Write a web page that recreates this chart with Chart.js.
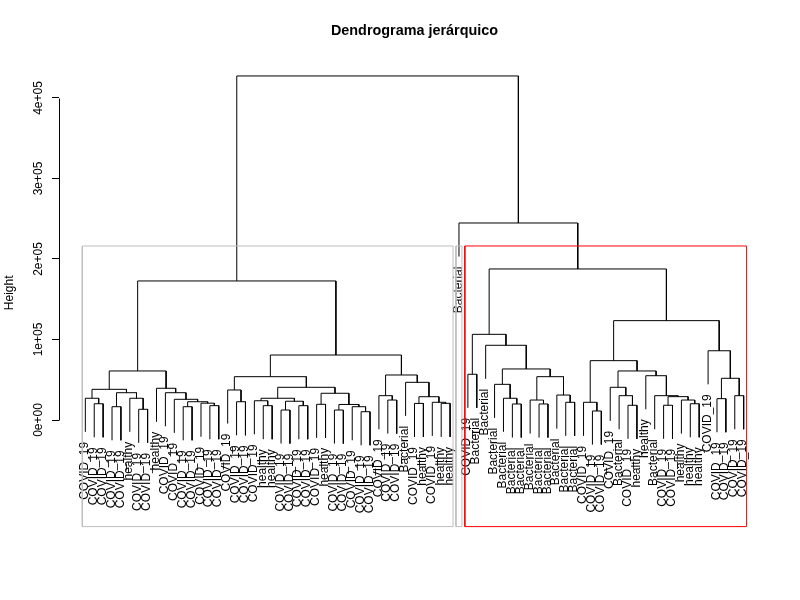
<!DOCTYPE html>
<html>
<head>
<meta charset="utf-8">
<script src="https://cdn.jsdelivr.net/npm/chart.js@4.4.0/dist/chart.umd.min.js"></script>
<style>html,body{margin:0;padding:0;background:#fff;}canvas{display:block;}</style>
</head>
<body>
<canvas id="c" width="800" height="600"></canvas>
<script>
// ---------- DATA ----------
const chartTitle = 'Dendrograma jerárquico';
const yAxisTitle = 'Height';
// leaf labels in dendrogram order (left to right)
const leafLabels = [
 'COVID_19','COVID_19','COVID_19','COVID_19','COVID_19',
 'healthy','COVID_19','COVID_19','healthy','COVID_19',
 'COVID_19','COVID_19','COVID_19','COVID_19','COVID_19',
 'COVID_19','COVID_19','COVID_19','COVID_19','COVID_19',
 'healthy','healthy','COVID_19','COVID_19','COVID_19',
 'COVID_19','COVID_19','healthy','COVID_19','COVID_19',
 'COVID_19','COVID_19','COVID_19','COVID_19','COVID_19',
 'COVID_19','Bacterial','COVID_19','healthy','COVID_19',
 'healthy','healthy','Bacterial','COVID_19','Bacterial',
 'Bacterial','Bacterial','Bacterial','Bacterial','Bacterial',
 'Bacterial','Bacterial','Bacterial','Bacterial','Bacterial',
 'Bacterial','COVID_19','COVID_19','COVID_19','COVID_19',
 'Bacterial','COVID_19','healthy','healthy','Bacterial',
 'COVID_19','COVID_19','healthy','healthy','healthy',
 'COVID_19','COVID_19','COVID_19','COVID_19','COVID_19'
];
// merge table (hclust style): negative = leaf position, positive = earlier merge
const mergeLeft = [
 -2,-1,-4,-7,-6,3,2,-12,-15,-14,
 8,-11,-10,-9,7,-18,-17,-21,-20,-23,
 -25,20,19,-27,-29,-32,-31,25,24,23,
 17,-35,-34,-38,-41,-40,34,-37,33,31,
 15,-44,-49,-48,-47,-52,-51,-55,-54,47,
 45,-46,42,-58,-57,-62,-61,-60,-66,-69,
 -68,59,-65,-64,58,55,-72,-74,67,-71,
 66,53,-43,41
];
const mergeRight = [
 -3,1,-5,-8,4,5,6,-13,-16,9,
 10,11,12,13,14,-19,16,-22,18,-24,
 -26,21,22,-28,-30,-33,26,27,28,29,
 30,-36,32,-39,-42,35,36,37,38,39,
 40,-45,-50,43,44,-53,46,-56,48,49,
 50,51,52,-59,54,-63,56,57,-67,-70,
 60,61,62,63,64,65,-73,-75,68,69,
 70,71,72,73
];
const mergeHeight = [
 20200,27000,16500,13300,27000,33900,38100,16500,17800,20900,
 22700,25700,33900,39400,60900,22700,37300,17800,23900,12400,
 17800,23300,27000,19500,12400,10300,16500,19300,33200,40600,
 53800,24800,30200,20600,20700,22000,28900,46800,55900,80700,
 172700,56800,19900,27000,44300,19900,24800,22000,31000,53800,
 63400,92800,106400,11200,22000,18300,30200,40600,18300,20200,
 24800,29000,30200,55000,60900,73700,26500,30200,51800,86000,
 123400,187600,244700,427300
];
const yTickValues = [0, 100000, 200000, 300000, 400000];
const yTickLabels = ['0e+00', '1e+05', '2e+05', '3e+05', '4e+05'];
const clusterK = 3;
const hangFraction = 0.1;

// ---------- STYLE / LAYOUT ----------
const FONT = '"Liberation Sans", Arial, sans-serif';
const rectColors = ['#BEBEBE', '#BEBEBE', '#FF0000'];
const yRange = [-132400, 448400];

// ---------- TREE LAYOUT (derived from the data) ----------
const n = leafLabels.length;
const nodeX = [];
const childX = c => c < 0 ? -c : nodeX[c - 1];
for (let j = 0; j < mergeLeft.length; j++) {
  nodeX[j] = (childX(mergeLeft[j]) + childX(mergeRight[j])) / 2;
}
const hMax = Math.max(...mergeHeight), hMin = Math.min(...mergeHeight);
const hang = hangFraction * (hMax - hMin);
const leafBottom = new Array(n + 1);
const treePts = [];
for (let j = 0; j < mergeLeft.length; j++) {
  const h = mergeHeight[j];
  const a = mergeLeft[j], b = mergeRight[j];
  const ya = a < 0 ? h - hang : mergeHeight[a - 1];
  const yb = b < 0 ? h - hang : mergeHeight[b - 1];
  if (a < 0) leafBottom[-a] = ya;
  if (b < 0) leafBottom[-b] = yb;
  const xa = childX(a), xb = childX(b);
  treePts.push({x: xa, y: ya}, {x: xa, y: h}, {x: xb, y: h}, {x: xb, y: yb}, {x: xb, y: null});
}
// clusters for rectangles (cut into k groups)
const sortedH = [...mergeHeight].sort((p, q) => q - p);
const cutH = (sortedH[clusterK - 2] + sortedH[clusterK - 1]) / 2;
const countLeaves = c => c < 0 ? 1 : countLeaves(mergeLeft[c - 1]) + countLeaves(mergeRight[c - 1]);
const clusterSizes = [];
(function collect(c) {
  if (c < 0 || mergeHeight[c - 1] < cutH) { clusterSizes.push(countLeaves(c)); return; }
  collect(mergeLeft[c - 1]); collect(mergeRight[c - 1]);
})(mergeLeft.length);
const rectSets = [];
let cum = 0;
clusterSizes.forEach((s, i) => {
  const x0 = cum + 0.66, x1 = cum + s + 0.33;
  cum += s;
  rectSets.push({
    data: [{x: x0, y: yRange[0]}, {x: x1, y: yRange[0]}, {x: x1, y: cutH}, {x: x0, y: cutH}, {x: x0, y: yRange[0]}],
    showLine: true, borderColor: rectColors[i], borderWidth: 1, pointRadius: 0, clip: false, tension: 0
  });
});

// ---------- PLUGINS ----------
const leafLabelPlugin = {
  id: 'leafLabels',
  beforeDatasetsDraw(chart) {
    const {ctx} = chart;
    const xs = chart.scales.x, ys = chart.scales.y;
    ctx.save();
    ctx.font = '12px ' + FONT;
    ctx.fillStyle = '#000';
    ctx.textAlign = 'right';
    ctx.textBaseline = 'alphabetic';
    for (let i = 1; i <= n; i++) {
      const px = xs.getPixelForValue(i);
      const py = ys.getPixelForValue(leafBottom[i]) + 10;
      ctx.save();
      ctx.translate(px, py);
      ctx.rotate(-Math.PI / 2);
      ctx.fillText(leafLabels[i - 1], 0, 2.6);
      ctx.restore();
    }
    ctx.restore();
  }
};
const axisLinePlugin = {
  id: 'axisLine',
  afterDraw(chart) {
    const {ctx} = chart;
    const ys = chart.scales.y;
    const x = Math.round(chart.chartArea.left) + 0.5;
    ctx.save();
    ctx.strokeStyle = '#000';
    ctx.lineWidth = 1;
    ctx.beginPath();
    ctx.moveTo(x, Math.round(ys.getPixelForValue(yTickValues[0])) + 0.5);
    ctx.lineTo(x, Math.round(ys.getPixelForValue(yTickValues[yTickValues.length - 1])) + 0.5);
    ctx.stroke();
    ctx.restore();
  }
};

new Chart(document.getElementById('c'), {
  type: 'scatter',
  data: {
    datasets: [
      ...rectSets,
      {data: treePts, showLine: true, borderColor: '#000', borderWidth: 1, pointRadius: 0, spanGaps: false, tension: 0}
    ]
  },
  options: {
    responsive: false,
    animation: false,
    devicePixelRatio: 1,
    events: [],
    layout: {padding: {left: 0, right: 30, top: 0, bottom: 73.4}},
    plugins: {
      legend: {display: false},
      tooltip: {enabled: false},
      title: {
        display: true, text: chartTitle, color: '#000', fullSize: false,
        font: {family: FONT, size: 14.4, weight: 'bold', lineHeight: 1.2},
        padding: {top: 22.4, bottom: 19.3}
      }
    },
    scales: {
      x: {type: 'linear', display: false, min: 1 - 0.04 * (n - 1), max: n + 0.04 * (n - 1)},
      y: {
        type: 'linear', min: yRange[0], max: yRange[1],
        afterBuildTicks: s => { s.ticks = yTickValues.map(v => ({value: v})); },
        afterFit: s => { s.width = 59; },
        border: {display: false},
        grid: {drawOnChartArea: false, drawTicks: true, tickLength: 7, color: '#000', lineWidth: 1},
        ticks: {
          autoSkip: false, minRotation: 90, maxRotation: 90, crossAlign: 'center', padding: -4,
          color: '#000', font: {family: FONT, size: 12},
          callback: (v, i) => yTickLabels[i]
        },
        title: {display: true, text: yAxisTitle, color: '#000', font: {family: FONT, size: 12}, padding: {top: 2, bottom: 0}}
      }
    }
  },
  plugins: [leafLabelPlugin, axisLinePlugin]
});
</script>
</body>
</html>
